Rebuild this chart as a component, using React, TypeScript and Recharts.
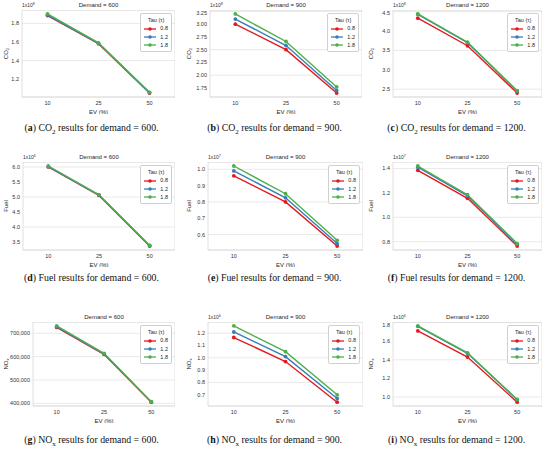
import React from 'react'
import { LineChart, Line, XAxis, YAxis, CartesianGrid, ReferenceArea, Label } from 'recharts'

const FONT = '"Liberation Sans", Arial, Helvetica, sans-serif'
const SERIF = '"Liberation Serif", "Times New Roman", serif'

const evLevels = ['10', '25', '50']
const tauLevels = ['0.8', '1.2', '1.8']
const tauColors = ['#e41a1c', '#377eb8', '#4daf4a']
const demands = ['600', '900', '1200']

// one row per tau (0.8, 1.2, 1.8), values at EV 10 / 25 / 50, in axis units
const co2_600 = [[1.885, 1.582, 1.05], [1.89, 1.585, 1.053], [1.902, 1.59, 1.058]]
const co2_900 = [[3.0, 2.5, 1.65], [3.1, 2.58, 1.7], [3.2, 2.66, 1.77]]
const co2_1200 = [[4.33, 3.62, 2.4], [4.43, 3.7, 2.45], [4.44, 3.71, 2.46]]
const fuel_600 = [[6.0, 5.05, 3.37], [6.01, 5.06, 3.38], [6.03, 5.07, 3.39]]
const fuel_900 = [[0.96, 0.8, 0.53], [0.99, 0.825, 0.545], [1.02, 0.85, 0.565]]
const fuel_1200 = [[1.385, 1.155, 0.765], [1.41, 1.175, 0.78], [1.42, 1.185, 0.785]]
const nox_600 = [[725000, 610000, 405000], [728000, 612000, 406000], [732000, 614000, 407000]]
const nox_900 = [[1.165, 0.97, 0.64], [1.21, 1.01, 0.67], [1.26, 1.05, 0.7]]
const nox_1200 = [[1.71, 1.43, 0.945], [1.76, 1.47, 0.97], [1.765, 1.475, 0.975]]

const co2Ticks = [[1.2, 1.4, 1.6, 1.8], [1.75, 2.0, 2.25, 2.5, 2.75, 3.0, 3.25], [2.5, 3.0, 3.5, 4.0, 4.5]]
const fuelTicks = [[3.5, 4.0, 4.5, 5.0, 5.5, 6.0], [0.6, 0.7, 0.8, 0.9, 1.0], [0.8, 1.0, 1.2, 1.4]]
const noxTicks = [[400000, 500000, 600000, 700000], [0.7, 0.8, 0.9, 1.0, 1.1, 1.2], [1.0, 1.2, 1.4, 1.6, 1.8]]
const co2Digits = [1, 2, 1]
const fuelDigits = [1, 1, 1]
const noxDigits = [0, 1, 1]

const co2Exp = ['8', '8', '8']
const fuelExp = ['6', '7', '7']
const noxExp = [null, '6', '6']

// layout of the 3x3 grid
const colLeft = [0, 183, 365]
const rowTop = [10, 162, 322]
const rowBottom = [97, 250, 406]
const captionY = [128, 278, 440]
const plotX = [
  [[22, 175], [210, 362], [393, 542]],
  [[23, 175], [208, 363], [393, 542]],
  [[33, 175], [208, 363], [393, 542]],
]
const XH = 17

type Metric = 'CO2' | 'Fuel' | 'NOx'

const metrics: Metric[] = ['CO2', 'Fuel', 'NOx']
const metricValues = [[co2_600, co2_900, co2_1200], [fuel_600, fuel_900, fuel_1200], [nox_600, nox_900, nox_1200]]
const metricTicks = [co2Ticks, fuelTicks, noxTicks]
const metricDigits = [co2Digits, fuelDigits, noxDigits]
const metricExp = [co2Exp, fuelExp, noxExp]
const letters = [['a', 'b', 'c'], ['d', 'e', 'f'], ['g', 'h', 'i']]

function MetricName({ metric }: { metric: Metric }) {
  if (metric === 'CO2') return <>CO<sub style={{ fontSize: '72%', lineHeight: 0 }}>2</sub></>
  if (metric === 'NOx') return <>NO<sub style={{ fontSize: '72%', lineHeight: 0 }}>x</sub></>
  return <>Fuel</>
}

function YTitle(props: any) {
  const { viewBox, metric } = props
  const cx = viewBox.x + 6
  const cy = viewBox.y + viewBox.height / 2
  const base = metric === 'CO2' ? 'CO' : metric === 'NOx' ? 'NO' : 'Fuel'
  const sub = metric === 'CO2' ? '2' : metric === 'NOx' ? 'x' : null
  return (
    <text x={cx} y={cy} transform={`rotate(-90 ${cx} ${cy})`} textAnchor="middle" dominantBaseline="central"
      fontSize={6} fill="#262626" fontFamily={FONT}>
      {base}
      {sub && <tspan dy={1.4} fontSize={4.3}>{sub}</tspan>}
    </text>
  )
}

function TauLegend() {
  return (
    <div style={{ background: '#fff', border: '0.8px solid #d0d0d0', borderRadius: 2, padding: '2px 3px 1px 3px', fontSize: 5.5, fontFamily: FONT, color: '#262626', lineHeight: '8.4px' }}>
      <div style={{ textAlign: 'center' }}>Tau (τ)</div>
      {tauLevels.map((t, i) => (
        <div key={t} style={{ display: 'flex', alignItems: 'center' }}>
          <svg width={12} height={6}>
            <line x1={0} y1={3} x2={12} y2={3} stroke={tauColors[i]} strokeWidth={1.3} />
            <circle cx={6} cy={3} r={1.8} fill={tauColors[i]} />
          </svg>
          <span style={{ marginLeft: 4 }}>{t}</span>
        </div>
      ))}
    </div>
  )
}

function Panel({ row, col }: { row: number; col: number }) {
  const metric = metrics[row]
  const values = metricValues[row][col]
  const ticks = metricTicks[row][col]
  const digits = metricDigits[row][col]
  const exp = metricExp[row][col]
  const [x0, x1] = plotX[row][col]
  const y0 = rowTop[row]
  const y1 = rowBottom[row]
  const colX = colLeft[col]
  const yw = x0 - colX
  const width = x1 - colX
  const height = y1 - y0 + XH

  // seaborn-style autoscale: data range plus 5% each side
  const all = values.flat()
  const lo = Math.min(...all)
  const hi = Math.max(...all)
  const pad = (hi - lo) * 0.05
  const domain: [number, number] = [lo - pad, hi + pad]

  const data = evLevels.map((ev, i) => ({ x: i, t0: values[0][i], t1: values[1][i], t2: values[2][i] }))
  const fmt = (v: number) => (digits === 0 ? v.toLocaleString('en-US') : v.toFixed(digits))

  const tickStyle = { fontSize: 5.5, fill: '#333', fontFamily: FONT }

  return (
    <>
      <div style={{ position: 'absolute', left: colX, top: y0, width, height }}>
        <LineChart width={width} height={height} data={data} margin={{ top: 0, right: 0, bottom: 0, left: 0 }}>
          <CartesianGrid horizontal vertical={false} stroke="#e3e3e3" strokeWidth={0.8} />
          <XAxis dataKey="x" type="number" domain={[-0.5, 2.5]} ticks={[0, 1, 2]} tickFormatter={(v) => evLevels[v]}
            height={XH} tick={tickStyle} tickLine={false} axisLine={false} tickSize={0} tickMargin={4}>
            <Label value="EV (%)" position="insideBottom" offset={0} fontSize={6} fill="#262626" fontFamily={FONT} />
          </XAxis>
          <YAxis type="number" domain={domain} allowDataOverflow ticks={ticks} tickFormatter={fmt} width={yw}
            tick={tickStyle} tickLine={false} axisLine={false} tickSize={0} tickMargin={3}>
            <Label content={(p: any) => <YTitle {...p} metric={metric} />} />
          </YAxis>
          <ReferenceArea x1={-0.5} x2={2.5} y1={domain[0]} y2={domain[1]} fill="none" stroke="#d8d8d8" strokeWidth={0.8} />
          {tauLevels.map((t, i) => (
            <Line key={t} dataKey={`t${i}`} stroke={tauColors[i]} strokeWidth={1.4} isAnimationActive={false}
              dot={{ r: 1.9, fill: tauColors[i], stroke: tauColors[i], strokeWidth: 0 }} />
          ))}
        </LineChart>
      </div>
      <div style={{ position: 'absolute', left: x0, width: x1 - x0, top: y0 - 8, textAlign: 'center', fontSize: 6, fontFamily: FONT, color: '#262626', lineHeight: '7px' }}>
        Demand = {demands[col]}
      </div>
      {exp && (
        <div style={{ position: 'absolute', left: x0, top: y0 - 8, fontSize: 5, fontFamily: FONT, color: '#333', lineHeight: '7px' }}>
          1x10<sup style={{ fontSize: 3.6, verticalAlign: 'top', lineHeight: '4px' }}>{exp}</sup>
        </div>
      )}
      <div style={{ position: 'absolute', right: 550 - (x1 - 3), top: y0 + 3 }}>
        <TauLegend />
      </div>
      <div style={{ position: 'absolute', left: colX, width: 183, top: captionY[row] - 7, textAlign: 'center', fontSize: 9.8, fontFamily: SERIF, color: '#111', lineHeight: '13px', whiteSpace: 'nowrap' }}>
        (<b>{letters[row][col]}</b>) <MetricName metric={metric} /> results for demand = {demands[col]}.
      </div>
    </>
  )
}

export default function App() {
  return (
    <div style={{ position: 'relative', width: 550, height: 455, background: '#fff', overflow: 'hidden' }}>
      <style>{'body{margin:0}'}</style>
      {[0, 1, 2].map((r) => [0, 1, 2].map((c) => <Panel key={`${r}-${c}`} row={r} col={c} />))}
    </div>
  )
}
